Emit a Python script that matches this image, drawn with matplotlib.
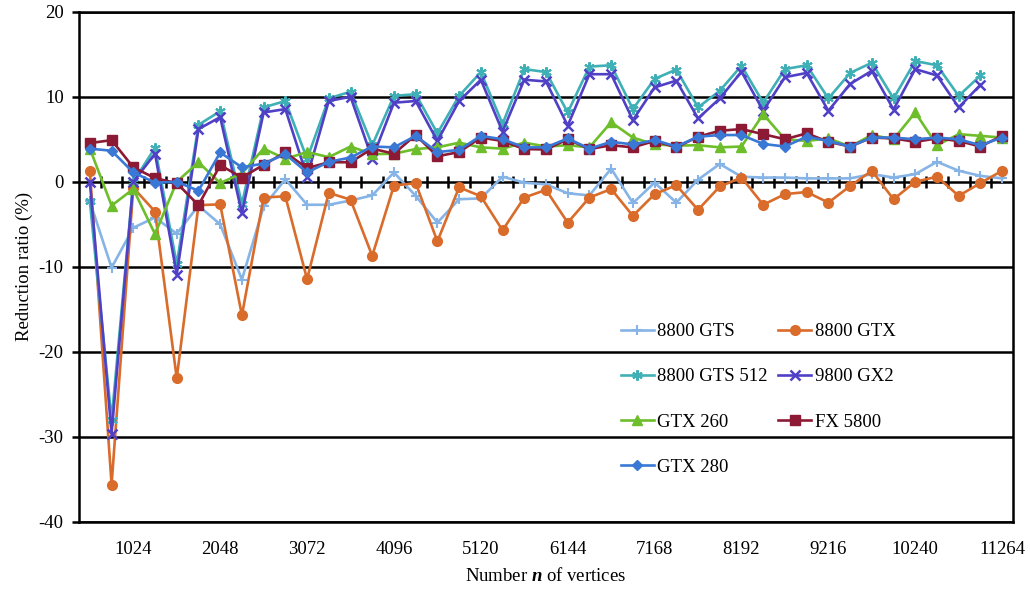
import matplotlib
matplotlib.use("Agg")
import matplotlib.pyplot as plt
import numpy as np

plt.rcParams['font.family'] = ['Liberation Serif', 'DejaVu Serif']
plt.rcParams['mathtext.fontset'] = 'custom'
plt.rcParams['mathtext.rm'] = 'Liberation Serif'
plt.rcParams['mathtext.it'] = 'Liberation Serif:italic'
plt.rcParams['mathtext.bf'] = 'Liberation Serif:bold'
plt.rcParams['mathtext.bfit'] = 'Liberation Serif:italic:bold'
plt.rcParams['axes.unicode_minus'] = False

vertices = [512, 768, 1024, 1280, 1536, 1792, 2048, 2304, 2560, 2816,
            3072, 3328, 3584, 3840, 4096, 4352, 4608, 4864, 5120, 5376,
            5632, 5888, 6144, 6400, 6656, 6912, 7168, 7424, 7680, 7936,
            8192, 8448, 8704, 8960, 9216, 9472, 9728, 9984, 10240, 10496,
            10752, 11008, 11264]
tick_labels = ['1024', '2048', '3072', '4096', '5120', '6144', '7168',
               '8192', '9216', '10240', '11264']

gts_8800 = [-2.3, -10.1, -5.4, -4.2, -6.1, -2.8, -5.0, -11.5, -2.9, 0.3,
            -2.7, -2.7, -2.2, -1.6, 1.1, -1.65, -4.8, -2.05, -1.95, 0.6,
            -0.1, -0.3, -1.35, -1.6, 1.55, -2.5, -0.1, -2.45, 0.25, 2.1,
            0.6, 0.5, 0.5, 0.4, 0.4, 0.4, 0.9, 0.5, 0.9, 2.35,
            1.3, 0.7, 0.4]
gtx_8800 = [1.3, -35.6, -0.7, -3.5, -23.1, -2.75, -2.65, -15.7, -1.85, -1.7,
            -11.45, -1.3, -2.1, -8.7, -0.45, -0.15, -7.0, -0.65, -1.7, -5.7,
            -1.85, -0.95, -4.8, -1.85, -0.85, -4.0, -1.45, -0.4, -3.3, -0.55,
            0.5, -2.7, -1.45, -1.2, -2.45, -0.5, 1.3, -2.05, 0.0, 0.6,
            -1.65, -0.15, 1.3]
gts512_8800 = [-2.3, -28.0, 0.0, 4.0, -9.7, 6.7, 8.3, -2.6, 8.75, 9.5,
               2.7, 9.8, 10.6, 4.3, 10.1, 10.3, 5.7, 10.1, 12.9, 6.8,
               13.25, 12.9, 8.15, 13.55, 13.7, 8.55, 12.1, 13.2, 8.75, 10.7,
               13.65, 9.3, 13.25, 13.7, 9.8, 12.8, 14.0, 9.8, 14.2, 13.7,
               10.1, 12.5]
gx2_9800 = [0.0, -29.6, 0.0, 3.3, -10.9, 6.2, 7.6, -3.7, 8.15, 8.55,
            0.6, 9.5, 10.0, 2.7, 9.3, 9.5, 4.8, 9.5, 12.0, 5.9,
            12.0, 11.8, 6.6, 12.65, 12.65, 7.25, 11.1, 11.9, 7.45, 9.8,
            12.95, 8.35, 12.3, 12.8, 8.35, 11.5, 13.05, 8.5, 13.25, 12.5,
            8.75, 11.4]
gtx_260 = [3.9, -2.8, -0.85, -6.15, 0.0, 2.3, -0.15, 1.0, 3.9, 2.7,
           3.5, 2.9, 4.15, 3.25, 3.3, 3.85, 4.05, 4.6, 4.05, 3.9,
           4.6, 4.15, 4.3, 4.05, 7.0, 5.2, 4.4, 4.25, 4.3, 4.05,
           4.15, 7.95, 5.0, 4.8, 5.1, 4.15, 5.5, 5.0, 8.15, 4.3,
           5.6, 5.4, 5.2]
fx_5800 = [4.55, 4.9, 1.7, 0.43, -0.15, -2.75, 1.96, 0.5, 2.0, 3.45,
           1.6, 2.3, 2.3, 3.9, 3.3, 5.5, 3.0, 3.5, 5.2, 4.8,
           3.85, 3.8, 5.0, 3.85, 4.3, 4.05, 4.8, 4.05, 5.3, 6.0,
           6.2, 5.6, 5.0, 5.7, 4.7, 4.15, 5.2, 5.1, 4.7, 5.1,
           4.8, 4.15, 5.4]
gtx_280 = [3.9, 3.65, 1.1, -0.1, 0.0, -1.05, 3.45, 1.7, 2.15, 3.25,
           1.1, 2.35, 2.85, 4.15, 4.05, 5.4, 3.5, 3.75, 5.4, 5.0,
           4.05, 4.05, 5.1, 3.9, 4.7, 4.4, 4.9, 4.15, 5.3, 5.5,
           5.5, 4.45, 4.15, 5.3, 4.8, 4.15, 5.2, 5.2, 5.0, 5.2,
           5.0, 4.3, 5.2]

series = [
    ('8800 GTS', gts_8800, '#86B4E6', '+', 7.5, 1.5),
    ('8800 GTX', gtx_8800, '#D96B2B', 'o', 7, 1.0),
    ('8800 GTS 512', gts512_8800, '#3FB0B6', (6, 2, 0), 7.5, 1.5),
    ('9800 GX2', gx2_9800, '#5040C6', 'x', 6.5, 1.8),
    ('GTX 260', gtx_260, '#6DBE2A', '^', 7, 1.0),
    ('FX 5800', fx_5800, '#8C1A35', 's', 6.5, 1.0),
    ('GTX 280', gtx_280, '#3A78D6', 'D', 5.5, 1.0),
]

fig = plt.figure(figsize=(10.3, 5.9), dpi=100)
ax = fig.add_axes([79/1030, 1-522/590, 934/1030, (522-11.7)/590])

idx = np.arange(len(vertices))
handles = {}
for name, vals, col, mk, ms, mew in series:
    x = idx[:len(vals)]
    h, = ax.plot(x, vals, color=col, lw=1.9, marker=mk, markersize=ms,
                 markeredgewidth=mew, markeredgecolor=col, markerfacecolor=col,
                 label=name, zorder=3)
    handles[name] = h

ax.set_xlim(-0.5, len(vertices) - 0.5)
ax.set_ylim(-40, 20)
ax.set_yticks(np.arange(-40, 21, 10))
ax.yaxis.grid(True, color='black', lw=1.8, zorder=1)
ax.set_axisbelow(True)
for s in ax.spines.values():
    s.set_linewidth(1.8)
    s.set_color('black')
ax.tick_params(axis='y', direction='out', length=5, width=1.8, labelsize=13.5, pad=6)

lab_pos = [vertices.index(int(t)) for t in tick_labels]
ax.set_xticks(lab_pos)
ax.set_xticklabels(tick_labels)
ax.tick_params(axis='x', length=0, labelsize=13.5, pad=14)

# zero axis with category boundary ticks
sec = ax.secondary_xaxis(40/60)
sec.set_xticks(idx[:-1] + 0.5)
sec.tick_params(axis='x', direction='inout', length=9, width=1.8, labelbottom=False,
                labeltop=False)
sec.spines['bottom'].set_linewidth(1.8)
sec.spines['top'].set_visible(False)

ax.set_xlabel(r'Number $\mathbfit{n}$ of vertices', fontsize=13.5, labelpad=6)
ax.set_ylabel('Reduction ratio (%)', fontsize=13.5, labelpad=4)

order = ['8800 GTS', '8800 GTS 512', 'GTX 260', 'GTX 280',
         '8800 GTX', '9800 GX2', 'FX 5800']
leg = fig.legend([handles[n] for n in order], order, ncol=2, frameon=False,
                 loc='center', bbox_to_anchor=(0.736, 0.323), fontsize=13.5,
                 handlelength=1.75, handletextpad=0.2, columnspacing=0.55,
                 labelspacing=1.5, borderpad=0)

fig.savefig('out.png', dpi=100)
